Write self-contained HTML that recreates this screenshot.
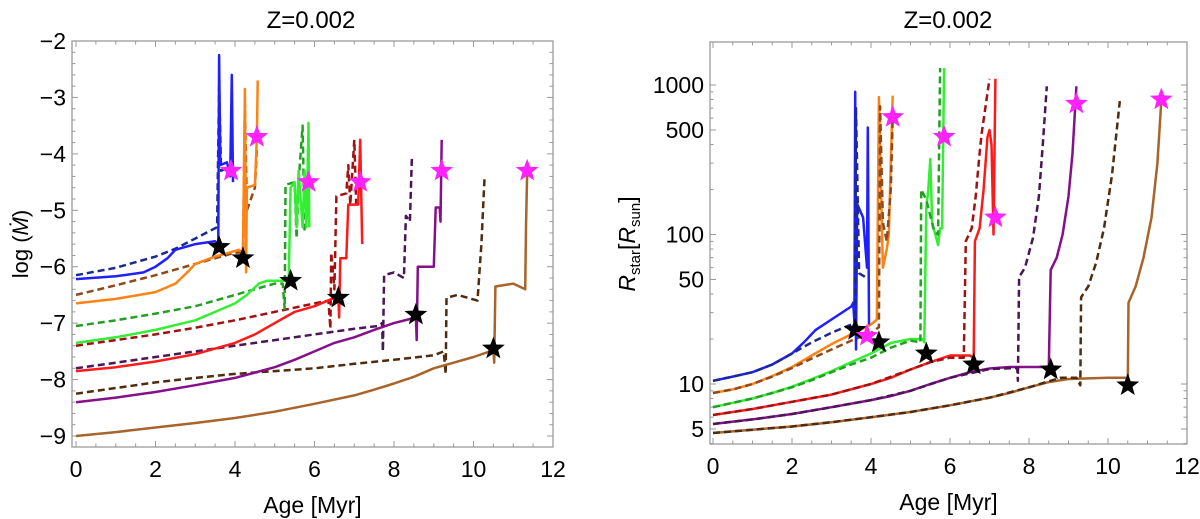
<!DOCTYPE html>
<html><head><meta charset="utf-8"><style>
html,body{margin:0;padding:0;background:#fff;}
svg{display:block;font-family:"Liberation Sans",Arial,sans-serif;}
</style></head><body>
<svg id="fig" width="1200" height="519" viewBox="0 0 1200 519" xmlns="http://www.w3.org/2000/svg">
<g id="left"></g>
<g id="right"></g>
</svg>
<script>
// ---------- data: left panel, log(Mdot) vs Age ----------
const mdBlueS=[[0,-6.22],[1,-6.17],[1.7,-6.1],[2,-6.0],[2.3,-5.85],[2.5,-5.7],[3,-5.6],[3.5,-5.55],[3.58,-5.6],[3.6,-2.25],[3.63,-4.2],[3.8,-4.15],[3.88,-4.4],[3.92,-2.6],[3.95,-4.5]];
const mdBlueD=[[0,-6.15],[1,-6.02],[2,-5.82],[2.5,-5.68],[3,-5.5],[3.55,-5.3],[3.6,-2.8],[3.65,-4.3],[3.8,-4.25]];
const mdOrangeS=[[0,-6.65],[1,-6.57],[2,-6.45],[2.5,-6.3],[2.8,-6.1],[3,-5.95],[3.5,-5.82],[4.1,-5.7],[4.2,-5.75],[4.25,-2.85],[4.28,-6.1],[4.3,-4.6],[4.5,-4.55],[4.55,-3.7],[4.57,-2.7]];
const mdOrangeD=[[0,-6.5],[1,-6.33],[2,-6.15],[3,-5.95],[4,-5.75],[4.2,-5.75],[4.25,-3.1],[4.3,-5.0],[4.5,-4.6],[4.55,-3.9]];
const mdGreenS=[[0,-7.35],[1,-7.25],[2,-7.12],[3,-6.95],[3.5,-6.8],[4,-6.65],[4.3,-6.5],[4.6,-6.3],[4.8,-6.25],[5.3,-6.25],[5.35,-6.25],[5.4,-4.6],[5.5,-4.5],[5.55,-5.3],[5.6,-4.3],[5.7,-5.3],[5.75,-4.3],[5.8,-5.3],[5.85,-3.45],[5.87,-5.3]];
const mdGreenD=[[0,-7.05],[1,-6.95],[2,-6.83],[3,-6.7],[4,-6.5],[5,-6.3],[5.2,-6.3],[5.25,-6.75],[5.27,-4.55],[5.5,-4.5],[5.55,-5.5],[5.6,-4.5],[5.7,-3.5],[5.75,-5.4]];
const mdRedS=[[0,-7.85],[1,-7.78],[2,-7.68],[3,-7.55],[4,-7.35],[4.5,-7.2],[5,-7.0],[5.5,-6.8],[6,-6.7],[6.5,-6.55],[6.6,-6.5],[6.62,-6.9],[6.65,-5.85],[6.8,-5.85],[6.85,-4.9],[7.1,-4.9],[7.15,-3.75],[7.2,-5.6]];
const mdRedD=[[0,-7.4],[1,-7.3],[2,-7.2],[3,-7.08],[4,-6.95],[5,-6.8],[6,-6.65],[6.35,-6.6],[6.4,-7.1],[6.42,-5.75],[6.5,-6.4],[6.55,-4.75],[6.8,-4.7],[6.85,-4.2],[6.9,-4.9],[7,-3.75],[7.05,-4.9]];
const mdPurpleS=[[0,-8.4],[1,-8.32],[2,-8.22],[3,-8.1],[4,-7.97],[5,-7.78],[5.5,-7.65],[6,-7.5],[6.5,-7.35],[7,-7.25],[7.5,-7.12],[8,-7.0],[8.55,-6.9],[8.57,-7.3],[8.6,-6.0],[9,-6.0],[9.05,-4.95],[9.15,-4.95],[9.17,-5.2],[9.2,-3.75]];
const mdPurpleD=[[0,-7.8],[1,-7.7],[2,-7.6],[3,-7.5],[4,-7.4],[5,-7.3],[6,-7.2],[7,-7.1],[7.6,-7.05],[7.7,-7.0],[7.72,-7.5],[7.75,-6.15],[8,-6.1],[8.25,-6.2],[8.3,-5.1],[8.4,-5.2],[8.45,-4.05]];
const mdBrownS=[[0,-9.0],[1,-8.93],[2,-8.85],[3,-8.77],[4,-8.68],[5,-8.57],[6,-8.43],[7,-8.28],[7.5,-8.18],[8,-8.07],[8.5,-7.95],[9,-7.8],[9.5,-7.7],[10,-7.6],[10.5,-7.48],[10.52,-7.7],[10.55,-6.35],[11,-6.3],[11.3,-6.4],[11.32,-5.3],[11.35,-4.3]];
const mdBrownD=[[0,-8.25],[1,-8.15],[2,-8.05],[3,-7.97],[4,-7.9],[5,-7.85],[6,-7.8],[7,-7.72],[8,-7.65],[9,-7.57],[9.25,-7.5],[9.3,-7.9],[9.32,-6.55],[9.6,-6.5],[10.1,-6.6],[10.2,-5.6],[10.28,-4.4]];
const mdBlackStars=[[3.6,-5.65],[4.2,-5.85],[5.4,-6.25],[6.6,-6.55],[8.55,-6.85],[10.5,-7.45]];
const mdMagentaStars=[[3.9,-4.3],[4.55,-3.7],[5.85,-4.5],[7.15,-4.5],[9.2,-4.3],[11.35,-4.3]];
// ---------- data: right panel, Rstar vs Age ----------
const rBlueS=[[0,10.5],[0.5,11.2],[1,12],[1.5,13.5],[2,16],[2.3,19],[2.6,23],[3,27],[3.5,33],[3.55,35],[3.58,26],[3.6,900],[3.62,17],[3.65,160],[3.8,130],[3.9,60],[3.92,520],[3.95,25]];
const rBlueD=[[0,10.5],[0.5,11.2],[1,12],[1.5,13.5],[2,16],[2.5,19],[3,22],[3.5,25],[3.6,24],[3.62,700],[3.7,55],[3.85,52]];
const rOrangeS=[[0,8.7],[0.5,9.2],[1,10],[1.5,11.3],[2,13],[2.5,15.5],[3,18.5],[3.5,21.5],[4,25],[4.15,27],[4.2,830],[4.3,60],[4.4,80],[4.45,100],[4.5,300],[4.55,850]];
const rOrangeD=[[0,8.7],[0.5,9.2],[1,10],[1.5,11.2],[2,12.8],[2.5,14.8],[3,17],[3.5,19.5],[4,22],[4.2,24],[4.23,720],[4.3,120],[4.4,90],[4.5,200],[4.55,600]];
const rGreenS=[[0,7],[1,8],[1.5,8.7],[2,9.6],[2.5,10.8],[3,12.2],[3.5,14],[4,16],[4.5,18.8],[5,20],[5.3,20],[5.35,19],[5.4,150],[5.45,200],[5.5,320],[5.55,120],[5.7,85],[5.75,110],[5.8,110],[5.85,1300]];
const rGreenD=[[0,7],[1,8],[2,9.5],[2.5,10.6],[3,12],[3.5,13.5],[4,15],[4.5,17.5],[5,19.5],[5.25,19],[5.27,200],[5.4,170],[5.6,105],[5.7,100],[5.75,1300]];
const rRedS=[[0,6.2],[1,6.8],[2,7.6],[3,8.5],[4,10],[4.5,11],[5,12.5],[5.5,14],[6,15.5],[6.5,15.5],[6.6,15],[6.63,90],[6.75,110],[6.85,200],[6.95,450],[7.0,500],[7.05,400],[7.1,100],[7.15,1100]];
const rRedD=[[0,6.2],[1,6.8],[2,7.6],[3,8.5],[4,10],[5,12.5],[5.5,14],[6,15],[6.35,15],[6.4,90],[6.55,110],[6.65,180],[6.75,350],[6.8,470],[7.0,1100]];
const rPurpleS=[[0,5.4],[1,5.8],[2,6.3],[3,7],[4,7.8],[4.5,8.3],[5,9],[5.5,10],[6,11],[6.5,12],[7,12.7],[7.5,13],[8.5,13],[8.55,58],[8.7,70],[8.85,100],[9.0,180],[9.1,350],[9.2,980]];
const rPurpleD=[[0,5.4],[1,5.8],[2,6.3],[3,7],[4,7.8],[5,9],[6,11],[7,12.6],[7.7,12.8],[7.72,10.5],[7.75,52],[7.9,60],[8.1,95],[8.25,180],[8.35,400],[8.45,980]];
const rBrownS=[[0,4.7],[1,4.95],[2,5.2],[3,5.55],[4,6.0],[5,6.5],[6,7.2],[7,8.1],[7.5,8.7],[8,9.5],[8.5,10.3],[9,10.8],[10,11],[10.45,11],[10.5,10.5],[10.52,35],[10.7,45],[10.9,70],[11.1,130],[11.25,300],[11.35,780]];
const rBrownD=[[0,4.7],[1,4.95],[2,5.2],[3,5.55],[4,6],[5,6.5],[6,7.2],[7,8.1],[8,9.5],[8.8,11],[9.2,11],[9.3,9.8],[9.32,38],[9.5,45],[9.7,65],[9.9,110],[10.1,250],[10.3,780]];
const rBlackStars=[[3.6,23],[4.2,19],[5.4,16],[6.6,13.5],[8.55,12.5],[10.5,9.8]];
const rMagentaStars=[[3.9,21],[4.55,610],[5.85,450],[7.15,130],[9.2,750],[11.35,800]];
// ticks
const xTicks=[0,2,4,6,8,10,12];
const mdTicks=[-2,-3,-4,-5,-6,-7,-8,-9];
const rTicks=[5,10,50,100,500,1000];

const NS="http://www.w3.org/2000/svg";
function mk(parent,tag,attrs){const e=document.createElementNS(NS,tag);for(const k in attrs)e.setAttribute(k,attrs[k]);parent.appendChild(e);return e;}

const L={x0:72,x1:553,y0:41,y1:447};
const R={x0:710,x1:1187,y0:42,y1:444};
const lx=v=>76+v*39.75;
const ly=v=>41+(-2-v)*56.43;
const rx=v=>713+v*39.5;
const ry=v=>384-(Math.log10(v)-1)*149.5;

const colors={blueS:"#1f1fff",blueD:"#1c2a8c",orangeS:"#ff8214",orangeD:"#8f4a1c",greenS:"#33ee33",greenD:"#23a023",redS:"#ff1a1a",redD:"#a01212",purpleS:"#85108a",purpleD:"#4a1656",brownS:"#a8642a",brownD:"#4f2c10"};

function frame(g,B,name){
  const f=mk(g,"rect",{x:B.x0,y:B.y0,width:B.x1-B.x0,height:B.y1-B.y0,fill:"none",stroke:"#9a9a9a","stroke-width":1.3});
  
  
}
function xAxis(g,B,fx,name){
  const ax=mk(g,"g",{});
  
  
  for(let v=0;v<=12.001;v+=0.5){
    const major=Math.abs(v-Math.round(v/2)*2)<1e-6;
    const len=major?6:3.5;const x=fx(v);
    mk(ax,"line",{x1:x,x2:x,y1:B.y1,y2:B.y1-len,stroke:"#9a9a9a","stroke-width":1});
    mk(ax,"line",{x1:x,x2:x,y1:B.y0,y2:B.y0+len,stroke:"#9a9a9a","stroke-width":1});
  }
  xTicks.forEach(v=>{
    const t=mk(ax,"text",{x:fx(v),y:B.y1+30,"font-size":23,"text-anchor":"middle",fill:"#000"});
    t.textContent=v;
    
    
  });
  const t=mk(ax,"text",{x:(B.x0+B.x1)/2,y:B.y1+66,"font-size":23,"text-anchor":"middle",fill:"#000"});
  t.textContent="Age [Myr]";
  
  
}
function path(g,pts,fx,fy,color,dashed,name){
  const d=pts.map((p,i)=>(i?"L":"M")+fx(p[0]).toFixed(1)+","+fy(p[1]).toFixed(1)).join(" ");
  const p=mk(g,"path",{d:d,fill:"none",stroke:color,"stroke-width":2.5,"stroke-linejoin":"round"});
  if(dashed)p.setAttribute("stroke-dasharray","7,4");
  
  
}
function star(g,cx,cy,r,color,name){
  let d="";
  for(let i=0;i<10;i++){const a=-Math.PI/2+i*Math.PI/5;const rr=i%2?r*0.42:r;d+=(i?"L":"M")+(cx+rr*Math.cos(a)).toFixed(1)+","+(cy+rr*Math.sin(a)).toFixed(1);}
  const s=mk(g,"path",{d:d+"Z",fill:color});
  
  
}
function title(g,x,name){
  const t=mk(g,"text",{x:x,y:28,"font-size":24,"text-anchor":"middle",fill:"#000"});
  t.textContent="Z=0.002";
  
  
}

// ---------- left ----------
const gl=document.getElementById("left");
title(gl,311,'left-title');
frame(gl,L,'left-frame');
xAxis(gl,L,lx,'left-x-axis');
const lya=mk(gl,"g",{});


for(let v=-2;v>=-9.001;v-=0.2){
  const major=Math.abs(v-Math.round(v))<1e-6;const len=major?6:3.5;const y=ly(v);
  mk(lya,"line",{x1:L.x0,x2:L.x0+len,y1:y,y2:y,stroke:"#9a9a9a","stroke-width":1});
  mk(lya,"line",{x1:L.x1,x2:L.x1-len,y1:y,y2:y,stroke:"#9a9a9a","stroke-width":1});
}
mdTicks.forEach(v=>{
  const t=mk(lya,"text",{x:L.x0-6,y:ly(v)+8,"font-size":23,"text-anchor":"end",fill:"#000"});
  t.textContent="\u2212"+Math.abs(v);
  
  
});
const lyt=mk(gl,"text",{transform:"translate(28,244) rotate(-90)","font-size":22,"text-anchor":"middle",fill:"#000"});
lyt.innerHTML='log (<tspan font-style="italic">\u1E40</tspan>)';


const lclip=mk(gl,"clipPath",{id:"lc"});mk(lclip,"rect",{x:L.x0,y:L.y0,width:L.x1-L.x0,height:L.y1-L.y0});
const lp=mk(gl,"g",{"clip-path":"url(#lc)"});
[[mdBrownD,"brownD",1],[mdBrownS,"brownS",0],[mdPurpleD,"purpleD",1],[mdPurpleS,"purpleS",0],[mdRedD,"redD",1],[mdRedS,"redS",0],[mdGreenD,"greenD",1],[mdGreenS,"greenS",0],[mdOrangeD,"orangeD",1],[mdOrangeS,"orangeS",0],[mdBlueD,"blueD",1],[mdBlueS,"blueS",0]].forEach(s=>path(lp,s[0],lx,ly,colors[s[1]],s[2],'mdot-'+s[1]));
mdBlackStars.forEach(p=>star(gl,lx(p[0]),ly(p[1]),12,"#000",'black-star'));
mdMagentaStars.forEach(p=>star(gl,lx(p[0]),ly(p[1]),12,"#ff22ff",'magenta-star'));

// ---------- right ----------
const gr=document.getElementById("right");
title(gr,948,'right-title');
frame(gr,R,'right-frame');
xAxis(gr,R,rx,'right-x-axis');
const rya=mk(gr,"g",{});


[4,5,6,7,8,9,10,20,30,40,50,60,70,80,90,100,200,300,400,500,600,700,800,900,1000,2000].forEach(v=>{
  const y=ry(v);if(y<R.y0||y>R.y1)return;
  const major=rTicks.includes(v);const len=major?6:3.5;
  mk(rya,"line",{x1:R.x0,x2:R.x0+len,y1:y,y2:y,stroke:"#9a9a9a","stroke-width":1});
  mk(rya,"line",{x1:R.x1,x2:R.x1-len,y1:y,y2:y,stroke:"#9a9a9a","stroke-width":1});
});
rTicks.forEach(v=>{
  const t=mk(rya,"text",{x:R.x0-6,y:ry(v)+8,"font-size":23,"text-anchor":"end",fill:"#000"});
  t.textContent=v;
  
  
});
const ryt=mk(gr,"text",{transform:"translate(635,244) rotate(-90)","font-size":23,"text-anchor":"middle",fill:"#000"});
ryt.innerHTML='<tspan font-style="italic">R</tspan><tspan font-size="15" dy="5">star</tspan><tspan dy="-5">[</tspan><tspan font-style="italic">R</tspan><tspan font-size="15" dy="5">sun</tspan><tspan dy="-5">]</tspan>';


const rclip=mk(gr,"clipPath",{id:"rc"});mk(rclip,"rect",{x:R.x0,y:R.y0,width:R.x1-R.x0,height:R.y1-R.y0});
const rp=mk(gr,"g",{"clip-path":"url(#rc)"});
[[rBrownS,"brownS",0],[rBrownD,"brownD",1],[rPurpleS,"purpleS",0],[rPurpleD,"purpleD",1],[rRedS,"redS",0],[rRedD,"redD",1],[rGreenS,"greenS",0],[rGreenD,"greenD",1],[rOrangeS,"orangeS",0],[rOrangeD,"orangeD",1],[rBlueS,"blueS",0],[rBlueD,"blueD",1]].forEach(s=>path(rp,s[0],rx,ry,colors[s[1]],s[2],'radius-'+s[1]));
rBlackStars.forEach(p=>star(gr,rx(p[0]),ry(p[1]),12,"#000",'black-star'));
rMagentaStars.forEach(p=>star(gr,rx(p[0]),ry(p[1]),12,"#ff22ff",'magenta-star'));
</script>
</body></html>
